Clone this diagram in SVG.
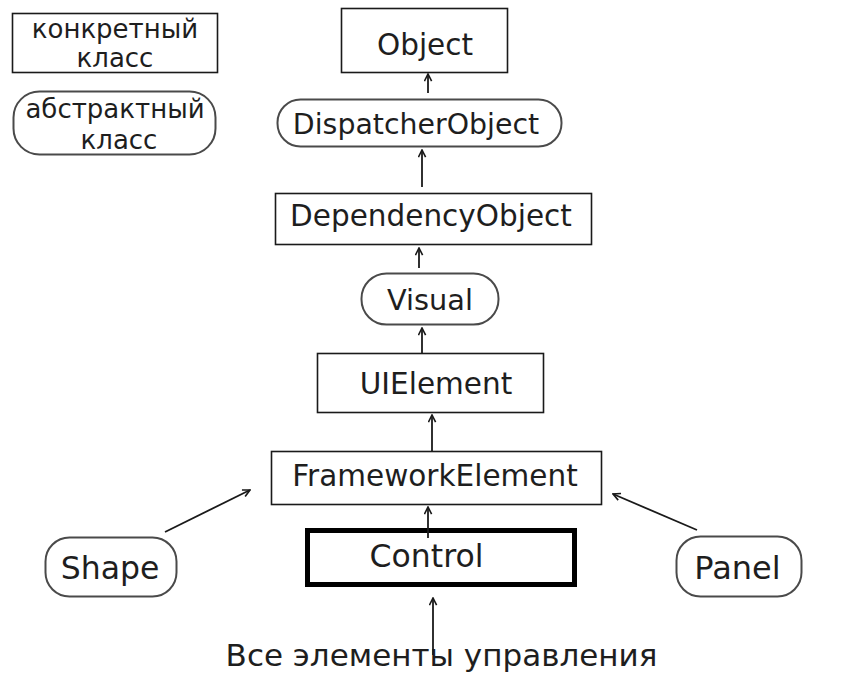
<svg xmlns="http://www.w3.org/2000/svg" width="864" height="680" viewBox="0 0 864 680">
<defs>
<style>
.box{fill:#fff;stroke:#1a1a1a;stroke-width:1.6}
.abs{fill:#fff;stroke:#4a4a4a;stroke-width:2}
.thick{fill:#fff;stroke:#000;stroke-width:5}
text{font-family:"DejaVu Sans","Noto Sans",sans-serif;fill:#1e1e1e;text-anchor:middle}
.t{font-size:29.5px}
.tb{font-size:31.5px}
.lg{font-size:26px}
.conn line{stroke:#1a1a1a;stroke-width:1.8;marker-end:url(#ah)}
</style>
<marker id="ah" viewBox="0 0 10 10" refX="9" refY="5" markerWidth="9" markerHeight="9" markerUnits="userSpaceOnUse" orient="auto">
<path d="M1,1 L9,5 L1,9" fill="none" stroke="#1a1a1a" stroke-width="1.8"/>
</marker>
</defs>
<rect width="864" height="680" fill="#fff"/>
<g id="legend-concrete">
<rect class="box" x="12.5" y="13.5" width="205" height="59"/>
<text class="lg" x="115" y="38">конкретный</text>
<text class="lg" x="115" y="67">класс</text>
</g>
<g id="legend-abstract">
<rect class="abs" x="13.5" y="91.5" width="202" height="63" rx="26"/>
<text class="lg" x="115" y="118">абстрактный</text>
<text class="lg" x="119" y="149">класс</text>
</g>
<g id="object">
<rect class="box" x="341.5" y="8.5" width="166" height="64"/>
<text class="t" x="425" y="55">Object</text>
</g>
<g id="dispatcherobject">
<rect class="abs" x="277.5" y="99.5" width="284" height="47" rx="23"/>
<text class="t" x="416" y="134" style="font-size:28.4px">DispatcherObject</text>
</g>
<g id="dependencyobject">
<rect class="box" x="275.5" y="193.5" width="316" height="51"/>
<text class="t" x="431" y="226">DependencyObject</text>
</g>
<g id="visual">
<rect class="abs" x="361.5" y="273.5" width="137" height="51" rx="25"/>
<text class="t" x="430" y="310" style="font-size:28.8px">Visual</text>
</g>
<g id="uielement">
<rect class="box" x="317.5" y="353.5" width="226" height="59"/>
<text class="t" x="436" y="394">UIElement</text>
</g>
<g id="frameworkelement">
<rect class="box" x="271.5" y="451.5" width="330" height="53"/>
<text class="t" x="435" y="486">FrameworkElement</text>
</g>
<g id="control">
<rect class="thick" x="307.5" y="530.5" width="267" height="54"/>
<text class="tb" x="426.5" y="567">Control</text>
</g>
<g id="shape">
<rect class="abs" x="45.5" y="537.5" width="131" height="59" rx="24"/>
<text class="tb" x="110" y="579">Shape</text>
</g>
<g id="panel">
<rect class="abs" x="676.5" y="536.5" width="125" height="60" rx="24"/>
<text class="tb" x="737.5" y="579" style="font-size:32px">Panel</text>
</g>
<g id="all-controls">
<text class="tb" x="441.5" y="666" style="font-size:31px">Все элементы управления</text>
</g>
<g id="connectors" class="conn">
<line x1="428" y1="93" x2="428" y2="74"/>
<line x1="422" y1="187" x2="422" y2="150"/>
<line x1="419" y1="268" x2="419" y2="248"/>
<line x1="422" y1="353" x2="422" y2="328"/>
<line x1="432" y1="451" x2="432" y2="415"/>
<line x1="428" y1="538" x2="428" y2="507"/>
<line x1="433" y1="655" x2="433" y2="598"/>
<line x1="165" y1="532" x2="250" y2="490"/>
<line x1="697" y1="530" x2="613" y2="494"/>
</g>
</svg>
